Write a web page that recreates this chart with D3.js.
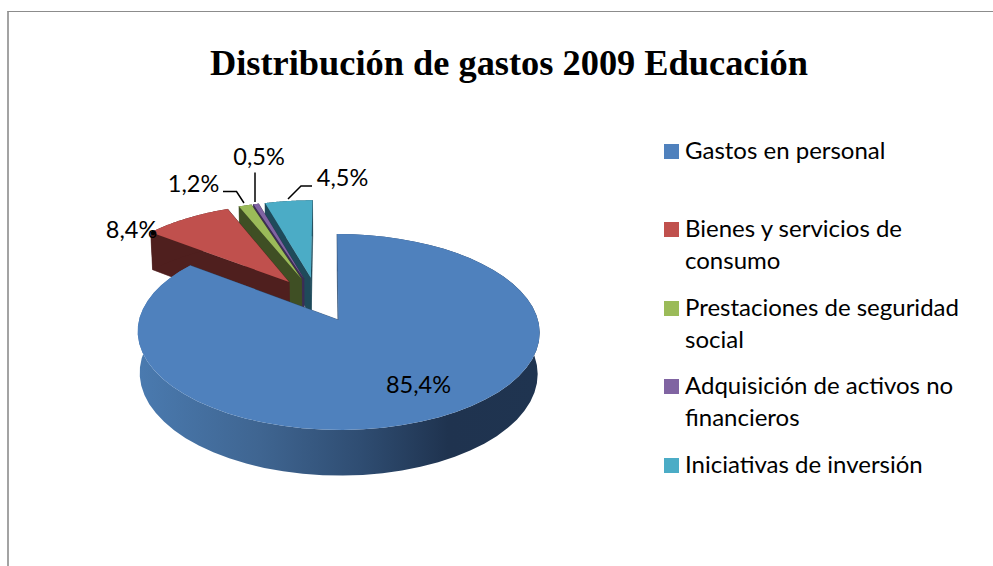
<!DOCTYPE html>
<html><head><meta charset="utf-8">
<script src="https://cdn.jsdelivr.net/npm/d3@7"></script>
<style>html,body{margin:0;padding:0;background:#fff;overflow:hidden}svg{display:block}</style>
</head><body><script>
const categories = ["Gastos en personal","Bienes y servicios de consumo","Prestaciones de seguridad social","Adquisición de activos no financieros","Iniciativas de inversión"];
const values = [85.4,8.4,1.2,0.5,4.5];
const valueLabels = ["85,4%","8,4%","1,2%","0,5%","4,5%"];
const legendLines = [["Gastos en personal"],["Bienes y servicios de","consumo"],["Prestaciones de seguridad","social"],["Adquisición de activos no","financieros"],["Iniciativas de inversión"]];
const topColors = ["#4f81bd","#c0504d","#9bbb59","#8064a2","#4bacc6"];
const wallColors = ["#2f4d71","#4f1f1e","#3f4f24","#3c2e55","#1f4a5a"];
const titleText = "Distribución de gastos 2009 Educación";

const W=993,H=566;
const svg=d3.select("body").append("svg").attr("width",W).attr("height",H);
const defs=svg.append("defs");
const grad=defs.append("linearGradient").attr("id","blueWall").attr("gradientUnits","userSpaceOnUse")
  .attr("x1",140).attr("x2",540).attr("y1",0).attr("y2",0);
[[0,"#4a7aaf"],[0.3,"#3f6591"],[0.55,"#2f4d72"],[0.77,"#1f334f"],[1,"#1f3450"]].forEach(s=>grad.append("stop").attr("offset",s[0]).attr("stop-color",s[1]));

// frame
svg.append("path").attr("d",`M8,${H}V11.5`).attr("fill","none").attr("stroke","#8c8c8c").attr("stroke-width",1.6);
svg.append("path").attr("d",`M7.2,11.5H${W}`).attr("fill","none").attr("stroke","#8c8c8c").attr("stroke-width",1.2);
// title
svg.append("text").attr("x",509).attr("y",75).attr("text-anchor","middle")
 .attr("font-family","'Liberation Serif'").attr("font-weight","700").attr("font-size",35).attr("textLength",598).attr("lengthAdjust","spacingAndGlyphs").attr("fill","#000").text(titleText);

// perspective model: unit disc -> screen
const cx=338.5,cy=320,R=199.5,k=96.5,p=0.1224,explode=0.245,depth=41,baseScale=0.99,vanishX=-12;
const pie=d3.pie().sort(null).value(d=>d)(values);
function proj(u,v,bottom){
  const w=1-p*v, s=bottom?baseScale:1;
  return [cx+vanishX+(R*s*u-vanishX)/w, cy+(k*s*v+(bottom?depth:0))/w];
}
const mid0=(pie[0].startAngle+pie[0].endAngle)/2;
const c0=[-Math.sin(mid0)*explode,Math.cos(mid0)*explode];
function apex(d){const m=(d.startAngle+d.endAngle)/2;return [c0[0]+Math.sin(m)*explode,c0[1]-Math.cos(m)*explode];}
function rim(d,a){const c=apex(d);return [c[0]+Math.sin(a),c[1]-Math.cos(a)];}
const line=d3.line();
const angles=d=>d3.range(0,61).map(i=>d.startAngle+(d.endAngle-d.startAngle)*i/60);
const g=svg.append("g");
[...pie.keys()].reverse().forEach(i=>{
  const d=pie[i],c=apex(d),as=angles(d);
  const wallFill=i===0?"url(#blueWall)":wallColors[i];
  [d.endAngle,d.startAngle].forEach(a=>{
    const r=rim(d,a);
    g.append("path").attr("d",line([proj(c[0],c[1]),proj(r[0],r[1]),proj(r[0],r[1],true),proj(c[0],c[1],true)])+"Z")
     .attr("fill",wallColors[i]).attr("stroke",wallColors[i]).attr("stroke-width",0.6);
  });
  const topPts=as.map(a=>{const r=rim(d,a);return proj(r[0],r[1]);});
  const botPts=as.map(a=>{const r=rim(d,a);return proj(r[0],r[1],true);}).reverse();
  g.append("path").attr("d",line(topPts.concat(botPts))+"Z").attr("fill",wallFill);
  g.append("path").attr("d",line([proj(c[0],c[1])].concat(topPts))+"Z").attr("fill",topColors[i]);
});

// leader lines
const leaders=[null,null,[[223,191.5],[236.5,191.5],[244,203]],[[255,172.5],[255,202]],[[312,186],[301,186],[288,199]]];
leaders.forEach(pts=>{
  if(pts) g.append("path").attr("d",line(pts)).attr("fill","none").attr("stroke","#000").attr("stroke-width",1.5);
});
g.append("circle").attr("cx",153).attr("cy",233).attr("r",2.2).attr("fill","#000");

// value labels
const labelPos=[[418.5,393],[131.5,238],[193.5,192],[259,165],[342.5,186]];
const font="Lato, 'Open Sans', sans-serif";
valueLabels.forEach((t,i)=>{
  svg.append("text").attr("x",labelPos[i][0]).attr("y",labelPos[i][1]).attr("text-anchor","middle")
   .attr("font-family",font).attr("font-size",23.5).attr("fill","#000").text(t);
});

// legend
const legendY=[152,230,309,387,466];
const lg=svg.append("g");
legendLines.forEach((lines,i)=>{
  lg.append("rect").attr("x",664).attr("y",legendY[i]-8).attr("width",15).attr("height",15).attr("fill",topColors[i]);
  lines.forEach((t,j)=>{
    lg.append("text").attr("x",685).attr("y",legendY[i]+7+j*31.7).attr("font-family",font).attr("font-size",24).attr("fill","#000").text(t);
  });
});
</script></body></html>
